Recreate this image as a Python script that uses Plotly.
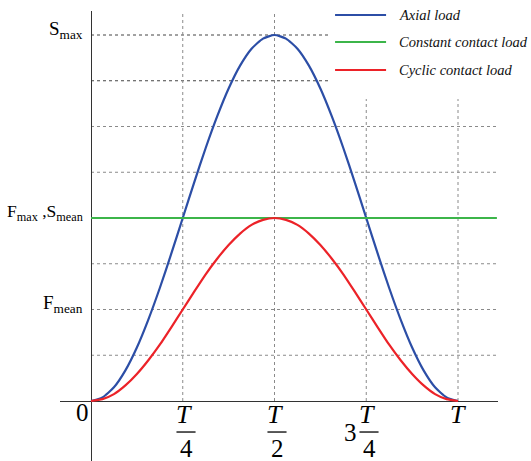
import plotly.graph_objects as go

# time in units of the period T
t = [0, 0.03125, 0.0625, 0.09375, 0.125, 0.15625, 0.1875, 0.21875, 0.25,
     0.28125, 0.3125, 0.34375, 0.375, 0.40625, 0.4375, 0.46875, 0.5,
     0.53125, 0.5625, 0.59375, 0.625, 0.65625, 0.6875, 0.71875, 0.75,
     0.78125, 0.8125, 0.84375, 0.875, 0.90625, 0.9375, 0.96875, 1.0]
axial = [0, 0.08, 0.30, 0.67, 1.17, 1.78, 2.47, 3.22, 4.0,
         4.78, 5.53, 6.22, 6.83, 7.33, 7.70, 7.92, 8.0,
         7.92, 7.70, 7.33, 6.83, 6.22, 5.53, 4.78, 4.0,
         3.22, 2.47, 1.78, 1.17, 0.67, 0.30, 0.08, 0]
cyclic = [0, 0.04, 0.15, 0.34, 0.59, 0.89, 1.23, 1.61, 2.0,
          2.39, 2.77, 3.11, 3.41, 3.66, 3.85, 3.96, 4.0,
          3.96, 3.85, 3.66, 3.41, 3.11, 2.77, 2.39, 2.0,
          1.61, 1.23, 0.89, 0.59, 0.34, 0.15, 0.04, 0]
constant_t = [0, 1.106]
constant = [4.0, 4.0]

series_names = ["Axial load", "Constant contact load", "Cyclic contact load"]
series_colors = ["#2c4ea6", "#3cb54a", "#ec2228"]

y_tick_vals = [8, 4, 2]
y_tick_text = ["S<sub>max</sub>", "F<sub>max</sub> ,S<sub>mean</sub>", "F<sub>mean</sub>"]
y_tick_sizes = [19, 17.5, 19]
x_tick_vals = [0.25, 0.5, 0.75, 1.0]

XR = [-0.08447, 1.10899]
YR = [-1.3115, 8.5246]

fig = go.Figure()
fig.add_trace(go.Scatter(x=t, y=axial, mode="lines", name=series_names[0],
                         line=dict(color=series_colors[0], width=2.2, shape="spline", smoothing=0.6)))
fig.add_trace(go.Scatter(x=constant_t, y=constant, mode="lines", name=series_names[1],
                         line=dict(color=series_colors[1], width=2.2)))
fig.add_trace(go.Scatter(x=t, y=cyclic, mode="lines", name=series_names[2],
                         line=dict(color=series_colors[2], width=2.2, shape="spline", smoothing=0.6)))

shapes = []
# horizontal grid lines
for yv in [1, 2, 3, 5, 6]:
    shapes.append(dict(type="line", xref="x", yref="y", x0=0, x1=1.106, y0=yv, y1=yv,
                       line=dict(color="#8a8a8a", width=1, dash="dot"), layer="below"))
for yv in [7, 8]:
    shapes.append(dict(type="line", xref="x", yref="y", x0=0, x1=0.651, y0=yv, y1=yv,
                       line=dict(color="#444444", width=1, dash="dot"), layer="below"))
# vertical grid lines
for xv, ytop in zip(x_tick_vals, [YR[1], YR[1], 6.6, 6.6]):
    shapes.append(dict(type="line", xref="x", yref="y", x0=xv, x1=xv, y0=0, y1=ytop,
                       line=dict(color="#8a8a8a", width=1, dash="dot"), layer="below"))
# fraction bars
for xc in [0.2589, 0.5068, 0.7575]:
    shapes.append(dict(type="line", xref="x", yref="y", x0=xc - 0.026, x1=xc + 0.026,
                       y0=-0.678, y1=-0.678, line=dict(color="black", width=1.3)))
# legend lines
for yv, c in zip([8.437, 7.847, 7.235], series_colors):
    shapes.append(dict(type="line", xref="x", yref="y", x0=0.665, x1=0.804, y0=yv, y1=yv,
                       line=dict(color=c, width=2.2)))

serif = "Liberation Serif"
ann = []
for yv, txt, sz in zip(y_tick_vals, y_tick_text, y_tick_sizes):
    ann.append(dict(x=-0.016, y=yv + 0.12, xref="x", yref="y", text=txt, showarrow=False,
                    xanchor="right", yanchor="middle", font=dict(family=serif, size=sz, color="black")))
ann.append(dict(x=-0.0245, y=-0.26, xref="x", yref="y", text="0", showarrow=False,
                xanchor="center", yanchor="middle", font=dict(family=serif, size=25, color="black")))
# x labels: T over fraction bar over denominator
for xc, den in zip([0.2589, 0.5068, 0.7575], ["4", "2", "4"]):
    ann.append(dict(x=xc - 0.006, y=-0.29, xref="x", yref="y", text="<i>T</i>", showarrow=False,
                    xanchor="center", yanchor="middle", font=dict(family=serif, size=26, color="black")))
    ann.append(dict(x=xc, y=-1.04, xref="x", yref="y", text=den, showarrow=False,
                    xanchor="center", yanchor="middle", font=dict(family=serif, size=25, color="black")))
ann.append(dict(x=0.706, y=-0.68, xref="x", yref="y", text="3", showarrow=False,
                xanchor="center", yanchor="middle", font=dict(family=serif, size=25, color="black")))
ann.append(dict(x=1.0, y=-0.29, xref="x", yref="y", text="<i>T</i>", showarrow=False,
                xanchor="center", yanchor="middle", font=dict(family=serif, size=26, color="black")))
# legend texts
for yv, name in zip([8.437, 7.847, 7.235], series_names):
    ann.append(dict(x=0.834, y=yv, xref="x", yref="y", text="<i>" + name + "</i>", showarrow=False,
                    xanchor="left", yanchor="middle", font=dict(family=serif, size=14.5, color="#111111")))

fig.update_layout(
    width=531, height=461,
    margin=dict(l=60, r=33, t=11, b=0),
    paper_bgcolor="white", plot_bgcolor="white",
    showlegend=False,
    font=dict(family=serif),
    shapes=shapes, annotations=ann,
    xaxis=dict(range=XR, showgrid=False, showticklabels=False, ticks="",
               zeroline=True, zerolinecolor="#333333", zerolinewidth=1, showline=False, fixedrange=True),
    yaxis=dict(range=YR, showgrid=False, showticklabels=False, ticks="",
               zeroline=True, zerolinecolor="#333333", zerolinewidth=1, showline=False, fixedrange=True),
)

fig.write_html("out.html")
